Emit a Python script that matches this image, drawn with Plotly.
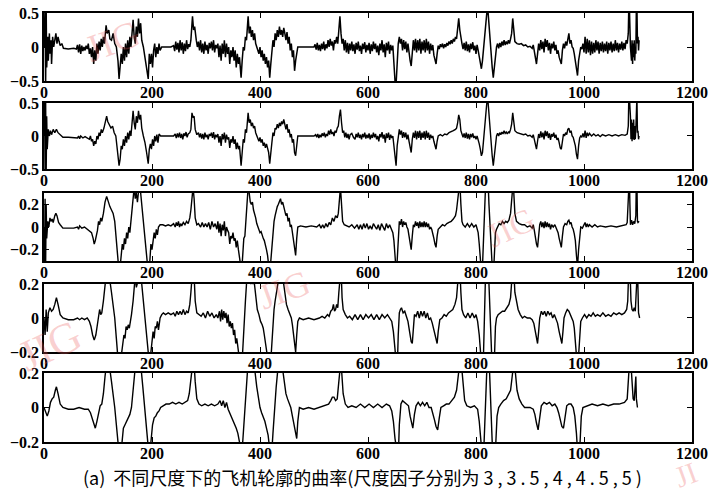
import plotly.graph_objects as go

# ---------------- data ----------------
scale_factors = ["3", "3.5", "4", "4.5", "5"]
x_tick_vals = [0, 200, 400, 600, 800, 1000, 1200]
y_ticks_wide = [-0.5, 0, 0.5]
y_ticks_narrow = [-0.2, 0, 0.2]

# curvature at scale factor 3 (point index, curvature)
curv_s3 = [
    (0, 0.0), (2, 0.6), (3, -0.6), (4, 0.6), (5, -0.3), (7, 0.15), (8, -0.2), (10, 0.2), (11, -0.1), (13, 0.1),
    (14, -0.25), (16, 0.15), (18, 0.0), (20, 0.1), (22, 0.2), (24, 0.05), (26, 0.15), (28, 0.08), (30, 0.02), (33, 0.05),
    (36, -0.02), (45, -0.03), (55, -0.02), (60, -0.03), (62, 0.03), (64, -0.08), (66, 0.04), (68, -0.1), (70, 0.02), (72, -0.06),
    (74, 0.0), (76, -0.05), (78, 0.02), (80, -0.03), (82, 0.05), (84, -0.1), (86, -0.02), (88, -0.15), (90, 0.0), (92, -0.25),
    (94, -0.05), (96, -0.2), (98, 0.05), (100, -0.1), (102, 0.08), (104, -0.05), (106, 0.12), (108, 0.0), (110, 0.15), (112, 0.05),
    (115, 0.32), (117, 0.2), (120, 0.25), (122, 0.12), (125, 0.1), (128, 0.2), (131, 0.05), (134, 0.0), (137, -0.2), (139, -0.47),
    (141, -0.3), (143, -0.1), (145, -0.25), (147, 0.0), (149, -0.2), (151, 0.05), (153, -0.15), (155, 0.1), (157, -0.1), (159, 0.15),
    (161, 0.0), (163, 0.2), (165, 0.4), (167, 0.15), (169, 0.05), (171, 0.3), (173, 0.15), (175, 0.42), (177, 0.2), (179, 0.35),
    (181, 0.1), (184, 0.0), (187, -0.15), (190, -0.25), (193, -0.47), (195, -0.1), (197, -0.25), (199, -0.1), (201, -0.3), (203, -0.05),
    (205, 0.05), (207, -0.15), (209, 0.0), (211, -0.1), (213, 0.05), (215, -0.05), (218, 0.0), (225, 0.0), (235, 0.0), (240, 0.02),
    (242, -0.06), (244, 0.08), (246, -0.04), (248, 0.06), (250, -0.08), (252, 0.1), (254, -0.05), (256, 0.07), (258, -0.1), (260, 0.05),
    (262, -0.06), (264, 0.1), (266, -0.03), (268, 0.04), (270, 0.0), (272, 0.1), (275, 0.45), (277, 0.25), (279, 0.3), (282, 0.1),
    (284, 0.0), (286, 0.08), (288, -0.05), (290, 0.1), (292, -0.08), (294, 0.05), (296, -0.1), (298, 0.08), (300, -0.05), (302, 0.03),
    (304, -0.1), (306, 0.06), (308, -0.02), (310, 0.08), (312, -0.05), (314, 0.1), (316, -0.08), (318, 0.03), (320, -0.02), (322, 0.05),
    (324, -0.15), (326, 0.02), (328, -0.2), (330, 0.05), (332, -0.1), (334, 0.1), (336, -0.15), (338, 0.05), (340, -0.1), (342, 0.0),
    (344, -0.25), (346, -0.05), (348, -0.15), (350, 0.0), (352, -0.2), (354, -0.05), (356, -0.3), (358, -0.1), (360, -0.25), (362, -0.15),
    (365, -0.45), (367, -0.2), (369, 0.0), (371, -0.05), (373, 0.15), (375, 0.1), (377, 0.35), (378, 0.45), (380, 0.2), (382, 0.3),
    (384, 0.15), (386, 0.25), (388, 0.1), (390, 0.2), (392, 0.05), (394, 0.0), (396, -0.05), (398, -0.1), (400, 0.0), (402, -0.15),
    (404, -0.05), (406, -0.2), (408, -0.1), (410, -0.25), (412, -0.15), (414, -0.3), (416, -0.2), (418, -0.45), (420, -0.25), (422, -0.1),
    (424, 0.1), (426, 0.0), (428, 0.2), (430, 0.1), (432, 0.25), (434, 0.15), (436, 0.3), (438, 0.18), (440, 0.25), (442, 0.15),
    (444, 0.28), (446, 0.2), (448, 0.1), (450, 0.22), (452, 0.05), (454, 0.15), (456, -0.05), (458, 0.05), (460, -0.15), (462, -0.05),
    (464, -0.35), (466, -0.2), (468, -0.05), (470, 0.0), (480, 0.0), (490, 0.0), (500, 0.0), (502, 0.04), (504, -0.04), (506, 0.06),
    (508, -0.05), (510, 0.03), (512, -0.06), (514, 0.05), (516, -0.03), (518, 0.08), (520, -0.05), (522, 0.04), (524, -0.02), (526, 0.1),
    (528, 0.0), (530, 0.12), (532, 0.02), (534, 0.08), (536, -0.05), (538, 0.1), (540, 0.05), (542, 0.15), (544, 0.05), (546, 0.25),
    (548, 0.45), (550, 0.2), (552, 0.05), (554, 0.12), (556, -0.05), (558, 0.1), (560, -0.08), (562, 0.06), (564, -0.1), (566, 0.05),
    (568, -0.05), (570, 0.08), (572, -0.06), (574, 0.04), (576, -0.1), (578, 0.06), (580, -0.04), (582, 0.08), (584, -0.06), (586, 0.02),
    (588, -0.1), (590, 0.05), (592, -0.03), (594, 0.07), (596, -0.08), (598, 0.03), (600, -0.05), (602, 0.06), (604, -0.1), (606, 0.04),
    (608, -0.06), (610, 0.08), (612, -0.03), (614, 0.05), (616, -0.08), (618, 0.02), (620, -0.12), (622, 0.05), (624, -0.05), (626, 0.1),
    (628, -0.08), (630, 0.04), (632, -0.15), (634, 0.06), (636, -0.05), (638, 0.08), (640, -0.1), (642, 0.03), (644, -0.05), (646, 0.02),
    (648, -0.2), (650, -0.5), (652, -0.55), (654, -0.1), (656, 0.05), (658, 0.15), (660, 0.05), (662, 0.12), (664, -0.05), (666, 0.1),
    (668, -0.03), (670, 0.08), (672, -0.08), (674, 0.05), (676, -0.1), (678, -0.2), (680, -0.28), (682, 0.0), (684, 0.1), (686, -0.05),
    (688, 0.12), (690, -0.08), (692, 0.1), (694, -0.05), (696, 0.12), (698, -0.1), (700, 0.08), (702, -0.05), (704, 0.1), (706, -0.08),
    (708, 0.12), (710, -0.05), (712, 0.08), (714, -0.1), (716, 0.05), (718, -0.05), (720, 0.03), (722, -0.12), (724, -0.18), (726, -0.25),
    (728, -0.1), (730, 0.02), (732, -0.03), (734, 0.04), (736, 0.0), (738, 0.05), (740, -0.02), (742, 0.04), (744, 0.0), (746, 0.06),
    (748, 0.02), (750, 0.08), (752, 0.04), (754, 0.1), (756, 0.05), (758, 0.12), (760, 0.08), (762, 0.15), (764, 0.12), (766, 0.25),
    (768, 0.42), (770, 0.25), (772, 0.1), (774, 0.05), (776, -0.03), (778, 0.06), (780, -0.05), (782, 0.08), (784, -0.06), (786, 0.04),
    (788, -0.08), (790, 0.05), (792, -0.03), (794, 0.07), (796, -0.05), (798, 0.02), (800, -0.1), (802, 0.03), (804, -0.05), (806, -0.15),
    (808, -0.25), (810, -0.32), (812, -0.2), (814, 0.0), (816, 0.15), (818, 0.3), (820, 0.5), (822, 0.55), (824, 0.3), (826, 0.1),
    (828, -0.1), (830, -0.3), (832, -0.45), (834, -0.3), (836, -0.05), (838, 0.0), (840, 0.05), (842, -0.02), (844, 0.06), (846, 0.0),
    (848, 0.08), (850, 0.02), (852, 0.1), (854, 0.03), (856, 0.08), (858, 0.04), (860, 0.1), (862, 0.05), (864, 0.12), (866, 0.2),
    (868, 0.42), (870, 0.2), (872, 0.08), (876, 0.05), (880, 0.04), (884, 0.05), (888, 0.02), (892, 0.03), (896, 0.0), (900, 0.01),
    (904, -0.02), (906, 0.03), (908, -0.05), (910, -0.15), (912, -0.25), (914, -0.1), (916, 0.05), (918, -0.05), (920, 0.1), (922, -0.03),
    (924, 0.08), (926, -0.08), (928, 0.12), (930, 0.0), (932, 0.1), (934, -0.05), (936, 0.06), (938, -0.1), (940, 0.05), (942, -0.02),
    (944, 0.08), (946, -0.05), (948, 0.03), (950, -0.1), (952, -0.05), (954, -0.15), (956, -0.22), (958, -0.25), (960, -0.05), (962, 0.05),
    (964, -0.02), (966, 0.08), (968, 0.02), (970, 0.15), (972, 0.2), (974, 0.05), (976, 0.1), (978, 0.0), (980, -0.02), (982, -0.1),
    (984, -0.2), (986, -0.35), (988, -0.42), (990, -0.2), (992, -0.05), (994, 0.0), (996, -0.03), (998, 0.05), (1000, -0.08), (1002, 0.15),
    (1004, -0.1), (1006, 0.12), (1008, -0.08), (1010, 0.1), (1012, -0.12), (1014, 0.08), (1016, -0.1), (1018, 0.06), (1020, -0.08), (1022, 0.1),
    (1024, -0.05), (1026, 0.08), (1028, -0.1), (1030, 0.06), (1032, -0.06), (1034, 0.08), (1036, -0.08), (1038, 0.05), (1040, -0.06), (1042, 0.08),
    (1044, -0.1), (1046, 0.06), (1048, -0.05), (1050, 0.08), (1052, -0.08), (1054, 0.05), (1056, -0.06), (1058, 0.1), (1060, -0.05), (1062, 0.06),
    (1064, -0.08), (1066, 0.05), (1068, -0.04), (1070, 0.08), (1072, -0.05), (1074, 0.06), (1076, -0.03), (1078, 0.1), (1080, 0.05), (1082, 0.2),
    (1083, 0.6), (1084, 0.6), (1086, 0.0), (1088, -0.2), (1089, 0.1), (1090, -0.25), (1091, 0.05), (1092, -0.15), (1093, 0.1), (1094, -0.2),
    (1095, 0.0), (1096, -0.1), (1097, 0.6), (1098, 0.6), (1099, 0.05), (1100, 0.15), (1101, -0.05), (1102, 0.1),
]

# curvature at scale factor 3.5
curv_s35 = [
    (0, 0.0), (1, 0.6), (2, -0.6), (3, 0.6), (4, -0.6), (5, 0.3), (6, -0.2), (8, 0.1), (10, 0.0), (12, 0.08),
    (14, 0.02), (17, 0.1), (20, 0.05), (23, 0.1), (26, 0.05), (30, 0.02), (35, -0.02), (45, -0.02), (55, -0.02), (62, -0.03),
    (64, 0.0), (66, -0.04), (68, 0.0), (72, -0.03), (76, -0.01), (80, -0.03), (84, -0.05), (86, 0.0), (88, -0.08), (90, -0.05),
    (92, -0.15), (94, -0.08), (96, -0.12), (98, 0.0), (100, -0.05), (102, 0.05), (104, 0.0), (106, 0.1), (108, 0.05), (111, 0.12),
    (114, 0.25), (116, 0.3), (118, 0.22), (121, 0.18), (124, 0.12), (127, 0.15), (130, 0.05), (133, 0.0), (136, -0.2), (139, -0.45),
    (141, -0.35), (143, -0.15), (145, -0.2), (147, -0.05), (149, -0.15), (151, 0.0), (153, -0.1), (155, 0.05), (157, -0.05), (159, 0.08),
    (161, 0.0), (163, 0.15), (165, 0.38), (167, 0.2), (169, 0.1), (171, 0.3), (173, 0.2), (175, 0.38), (177, 0.25), (179, 0.32),
    (181, 0.12), (184, 0.0), (187, -0.1), (190, -0.25), (193, -0.42), (195, -0.2), (197, -0.12), (199, -0.2), (201, -0.05), (203, -0.15),
    (205, 0.0), (207, -0.08), (209, 0.02), (211, -0.1), (213, 0.03), (216, 0.0), (220, 0.0), (230, 0.0), (240, 0.0), (243, 0.03),
    (245, -0.03), (247, 0.04), (249, -0.02), (251, 0.05), (253, -0.03), (255, 0.03), (257, -0.05), (259, 0.04), (261, 0.0), (263, 0.06),
    (265, -0.02), (267, 0.03), (270, 0.05), (272, 0.1), (274, 0.35), (276, 0.28), (278, 0.3), (280, 0.1), (283, 0.02), (286, 0.05),
    (288, -0.02), (290, 0.04), (292, -0.04), (294, 0.03), (296, -0.05), (298, 0.05), (300, -0.02), (302, 0.02), (304, -0.05), (306, 0.03),
    (308, 0.0), (310, 0.05), (312, -0.03), (314, 0.06), (316, -0.05), (318, 0.02), (320, -0.02), (322, 0.03), (324, -0.1), (326, 0.0),
    (328, -0.15), (330, 0.03), (332, -0.05), (334, 0.05), (336, -0.1), (338, 0.02), (340, -0.05), (342, -0.02), (344, -0.18), (346, -0.05),
    (348, -0.1), (350, 0.0), (352, -0.12), (354, -0.05), (356, -0.2), (358, -0.1), (360, -0.2), (362, -0.15), (364, -0.35), (365, -0.45),
    (367, -0.25), (369, -0.05), (371, -0.1), (373, 0.1), (375, 0.05), (377, 0.3), (378, 0.35), (380, 0.2), (382, 0.25), (384, 0.15),
    (386, 0.2), (388, 0.12), (390, 0.15), (392, 0.05), (394, 0.0), (396, -0.03), (398, -0.08), (400, -0.02), (402, -0.1), (404, -0.05),
    (406, -0.15), (408, -0.1), (410, -0.18), (412, -0.12), (414, -0.2), (416, -0.25), (418, -0.42), (420, -0.3), (422, -0.1), (424, 0.05),
    (426, 0.0), (428, 0.12), (430, 0.1), (432, 0.18), (434, 0.12), (436, 0.2), (438, 0.15), (440, 0.22), (442, 0.18), (444, 0.25),
    (446, 0.18), (448, 0.1), (450, 0.18), (452, 0.05), (454, 0.1), (456, -0.02), (458, 0.03), (460, -0.1), (462, -0.05), (464, -0.25),
    (466, -0.3), (468, -0.1), (470, 0.0), (480, 0.0), (490, 0.0), (500, 0.0), (503, 0.02), (505, -0.02), (507, 0.03), (509, -0.03),
    (511, 0.02), (513, -0.02), (515, 0.04), (517, 0.0), (519, 0.05), (521, -0.02), (523, 0.03), (525, 0.0), (527, 0.08), (529, 0.02),
    (531, 0.1), (533, 0.03), (535, 0.06), (537, 0.0), (539, 0.08), (541, 0.05), (543, 0.12), (545, 0.15), (547, 0.3), (549, 0.4),
    (551, 0.2), (553, 0.05), (555, 0.08), (557, -0.02), (559, 0.05), (561, -0.03), (563, 0.03), (565, -0.05), (567, 0.02), (570, 0.04),
    (573, -0.02), (576, -0.05), (578, 0.03), (580, -0.02), (582, 0.05), (584, -0.03), (586, 0.02), (588, -0.05), (590, 0.03), (592, -0.02),
    (594, 0.05), (596, -0.04), (598, 0.02), (600, -0.03), (602, 0.04), (604, -0.05), (606, 0.02), (608, -0.03), (610, 0.05), (612, -0.02),
    (614, 0.03), (616, -0.05), (618, 0.0), (620, -0.08), (622, 0.03), (624, -0.02), (626, 0.06), (628, -0.04), (630, 0.02), (632, -0.1),
    (634, 0.04), (636, -0.03), (638, 0.05), (640, -0.06), (642, 0.02), (644, -0.03), (646, 0.0), (648, -0.15), (650, -0.35), (652, -0.45),
    (654, -0.15), (656, 0.0), (658, 0.1), (660, 0.02), (662, 0.08), (664, -0.03), (666, 0.06), (668, -0.02), (670, 0.05), (672, -0.05),
    (674, 0.02), (676, -0.08), (678, -0.15), (680, -0.25), (682, -0.05), (684, 0.05), (686, -0.03), (688, 0.08), (690, -0.05), (692, 0.07),
    (694, -0.03), (696, 0.08), (698, -0.06), (700, 0.05), (702, -0.03), (704, 0.07), (706, -0.05), (708, 0.08), (710, -0.03), (712, 0.05),
    (714, -0.06), (716, 0.02), (718, -0.03), (720, 0.0), (722, -0.08), (724, -0.15), (726, -0.2), (728, -0.08), (730, 0.0), (734, 0.02),
    (738, 0.0), (742, 0.03), (746, 0.02), (750, 0.05), (754, 0.06), (758, 0.08), (762, 0.1), (764, 0.12), (766, 0.2), (768, 0.32),
    (770, 0.25), (772, 0.08), (774, 0.03), (776, -0.02), (778, 0.04), (780, -0.03), (782, 0.05), (784, -0.04), (786, 0.03), (788, -0.05),
    (790, 0.03), (792, -0.02), (794, 0.04), (796, -0.03), (798, 0.0), (800, -0.05), (802, 0.0), (804, -0.05), (806, -0.12), (808, -0.2),
    (810, -0.3), (812, -0.25), (814, -0.05), (816, 0.15), (818, 0.3), (820, 0.5), (822, 0.55), (824, 0.3), (826, 0.1), (828, -0.1),
    (830, -0.3), (832, -0.45), (834, -0.3), (836, -0.05), (838, 0.0), (840, 0.04), (842, 0.0), (844, 0.05), (846, 0.02), (848, 0.06),
    (850, 0.03), (852, 0.08), (854, 0.04), (856, 0.06), (858, 0.03), (860, 0.06), (862, 0.05), (864, 0.1), (866, 0.18), (868, 0.35),
    (870, 0.2), (872, 0.08), (876, 0.05), (880, 0.04), (884, 0.04), (888, 0.02), (892, 0.03), (896, 0.0), (900, 0.01), (904, -0.02),
    (906, 0.02), (908, -0.05), (910, -0.12), (912, -0.2), (914, -0.08), (916, 0.03), (918, -0.03), (920, 0.07), (922, -0.02), (924, 0.05),
    (926, -0.05), (928, 0.08), (930, 0.0), (932, 0.07), (934, -0.03), (936, 0.04), (938, -0.06), (940, 0.03), (942, -0.01), (944, 0.05),
    (946, -0.03), (948, 0.02), (950, -0.06), (952, -0.03), (954, -0.1), (956, -0.18), (958, -0.2), (960, -0.05), (962, 0.03), (964, 0.0),
    (966, 0.05), (968, 0.02), (970, 0.1), (972, 0.12), (974, 0.05), (976, 0.08), (978, 0.0), (980, -0.02), (982, -0.08), (984, -0.15),
    (986, -0.28), (988, -0.35), (990, -0.15), (992, -0.03), (994, 0.0), (996, -0.02), (998, 0.04), (1000, -0.02), (1002, 0.08), (1004, -0.03),
    (1006, 0.05), (1008, 0.0), (1010, 0.04), (1014, 0.0), (1018, 0.03), (1022, 0.0), (1026, 0.02), (1030, -0.01), (1034, 0.02), (1040, 0.0),
    (1046, 0.02), (1052, 0.0), (1058, 0.02), (1064, 0.0), (1070, 0.02), (1076, 0.01), (1080, 0.03), (1082, 0.15), (1083, 0.6), (1084, 0.6),
    (1086, 0.3), (1087, -0.05), (1088, 0.25), (1089, -0.08), (1090, 0.2), (1091, -0.05), (1092, 0.25), (1093, -0.06), (1094, 0.15), (1095, -0.05),
    (1096, 0.1), (1097, 0.6), (1098, 0.6), (1099, 0.05), (1100, 0.08), (1101, -0.05), (1102, 0.0),
]

# curvature at scale factor 4
curv_s4 = [
    (0, 0.0), (1, -0.4), (2, 0.25), (3, -0.35), (4, 0.2), (5, -0.1), (7, 0.05), (9, 0.0), (11, 0.08), (13, 0.05),
    (15, 0.07), (17, 0.04), (20, 0.1), (22, 0.12), (24, 0.1), (27, 0.04), (30, 0.02), (35, -0.01), (45, -0.01), (55, -0.01),
    (62, 0.0), (64, -0.02), (66, 0.01), (70, -0.01), (75, 0.0), (80, -0.02), (84, -0.03), (88, -0.05), (91, -0.1), (93, -0.15),
    (95, -0.12), (97, -0.08), (99, -0.03), (101, 0.05), (103, 0.02), (105, 0.08), (107, 0.05), (110, 0.12), (113, 0.22), (116, 0.27),
    (119, 0.22), (122, 0.18), (125, 0.15), (128, 0.12), (131, 0.05), (134, -0.1), (137, -0.3), (139, -0.4), (141, -0.35), (143, -0.25),
    (145, -0.15), (147, -0.2), (149, -0.1), (151, -0.15), (153, -0.05), (155, -0.1), (157, 0.0), (159, -0.05), (161, 0.05), (163, 0.1),
    (165, 0.25), (167, 0.35), (169, 0.25), (171, 0.3), (173, 0.22), (175, 0.35), (177, 0.4), (179, 0.3), (181, 0.2), (184, 0.1),
    (187, -0.05), (190, -0.2), (193, -0.4), (196, -0.3), (198, -0.15), (200, -0.2), (202, -0.1), (204, -0.05), (206, -0.1), (208, -0.02),
    (210, -0.07), (212, 0.0), (215, 0.02), (220, 0.02), (225, 0.01), (230, 0.02), (235, 0.01), (240, 0.03), (243, 0.0), (245, 0.04),
    (247, 0.01), (249, 0.05), (251, 0.0), (253, 0.03), (255, 0.01), (258, 0.04), (261, 0.02), (264, 0.05), (267, 0.03), (270, 0.08),
    (272, 0.15), (274, 0.35), (276, 0.35), (278, 0.25), (280, 0.08), (283, 0.02), (286, 0.03), (290, 0.0), (293, 0.04), (296, 0.0),
    (299, 0.03), (302, 0.0), (305, 0.04), (308, -0.02), (311, 0.05), (314, 0.0), (317, 0.03), (320, -0.02), (322, 0.05), (324, -0.05),
    (326, 0.03), (328, -0.08), (330, 0.02), (332, -0.03), (334, 0.05), (336, -0.08), (338, 0.0), (340, -0.03), (342, -0.05), (344, -0.15),
    (346, -0.08), (348, -0.1), (350, -0.05), (352, -0.12), (354, -0.1), (356, -0.18), (358, -0.12), (360, -0.2), (362, -0.25), (364, -0.35),
    (366, -0.4), (368, -0.25), (370, -0.1), (372, -0.08), (374, 0.05), (376, 0.2), (378, 0.35), (380, 0.3), (382, 0.22), (384, 0.2),
    (386, 0.22), (388, 0.15), (390, 0.12), (392, 0.08), (394, 0.03), (396, 0.0), (398, -0.03), (400, -0.05), (402, -0.04), (404, -0.08),
    (406, -0.1), (408, -0.12), (410, -0.18), (412, -0.2), (414, -0.25), (416, -0.35), (418, -0.42), (420, -0.3), (422, -0.15), (424, 0.0),
    (426, 0.05), (428, 0.1), (430, 0.15), (432, 0.18), (434, 0.2), (436, 0.22), (438, 0.25), (440, 0.2), (442, 0.22), (444, 0.18),
    (446, 0.15), (448, 0.1), (450, 0.12), (452, 0.05), (454, 0.08), (456, 0.0), (458, 0.02), (460, -0.05), (462, -0.08), (464, -0.18),
    (466, -0.25), (468, -0.1), (470, 0.0), (475, 0.01), (485, 0.0), (495, 0.01), (505, 0.0), (510, 0.02), (513, -0.01), (516, 0.02),
    (519, -0.01), (522, 0.03), (525, 0.0), (528, 0.04), (531, 0.02), (534, 0.08), (537, 0.05), (540, 0.1), (543, 0.08), (545, 0.12),
    (547, 0.25), (549, 0.35), (551, 0.2), (553, 0.05), (556, 0.02), (560, 0.01), (565, 0.0), (570, 0.02), (575, -0.01), (580, 0.02),
    (583, -0.02), (586, 0.02), (589, -0.02), (592, 0.03), (595, -0.01), (598, 0.03), (601, -0.02), (604, 0.01), (607, -0.02), (610, 0.03),
    (613, 0.0), (616, -0.02), (619, 0.02), (622, -0.03), (625, 0.03), (628, 0.0), (631, -0.03), (634, 0.03), (637, -0.01), (640, 0.02),
    (643, -0.02), (646, -0.05), (648, -0.12), (650, -0.25), (652, -0.38), (654, -0.3), (656, -0.05), (658, 0.05), (660, 0.02), (662, 0.07),
    (664, 0.0), (666, 0.05), (668, 0.02), (670, 0.04), (672, 0.0), (674, -0.02), (676, -0.08), (678, -0.15), (680, -0.2), (682, -0.08),
    (684, 0.02), (686, 0.0), (688, 0.05), (690, 0.01), (692, 0.04), (694, -0.01), (696, 0.05), (698, 0.0), (700, 0.04), (702, 0.0),
    (704, 0.05), (706, 0.0), (708, 0.04), (710, 0.0), (712, 0.03), (714, -0.02), (716, 0.0), (718, -0.02), (720, -0.05), (722, -0.1),
    (724, -0.15), (726, -0.18), (728, -0.08), (730, -0.02), (734, 0.0), (738, 0.02), (742, 0.01), (746, 0.03), (750, 0.04), (754, 0.05),
    (758, 0.07), (762, 0.1), (764, 0.15), (766, 0.25), (768, 0.35), (770, 0.4), (772, 0.2), (774, 0.05), (776, 0.02), (780, 0.0),
    (784, 0.03), (788, 0.0), (792, 0.03), (796, 0.0), (800, 0.02), (802, -0.02), (804, -0.05), (806, -0.15), (808, -0.3), (810, -0.4),
    (812, -0.35), (814, -0.1), (816, 0.2), (818, 0.4), (820, 0.5), (822, 0.45), (824, 0.2), (826, 0.0), (828, -0.2), (830, -0.35),
    (832, -0.45), (834, -0.3), (836, -0.05), (838, -0.02), (840, 0.0), (843, 0.03), (846, 0.02), (849, 0.05), (852, 0.03), (855, 0.05),
    (858, 0.04), (861, 0.06), (864, 0.12), (866, 0.22), (868, 0.35), (870, 0.3), (872, 0.12), (875, 0.05), (880, 0.03), (885, 0.02),
    (890, 0.02), (895, 0.0), (900, 0.01), (904, -0.01), (906, 0.02), (908, -0.03), (910, -0.1), (912, -0.15), (914, -0.18), (916, -0.05),
    (918, 0.02), (920, 0.05), (922, 0.0), (924, 0.04), (926, -0.01), (928, 0.05), (930, 0.0), (932, 0.04), (934, 0.0), (936, 0.03),
    (938, -0.02), (940, 0.02), (943, 0.0), (946, 0.02), (949, -0.02), (952, -0.05), (954, -0.1), (956, -0.15), (958, -0.18), (960, -0.08),
    (962, 0.0), (965, 0.03), (968, 0.02), (970, 0.05), (972, 0.06), (974, 0.03), (976, 0.04), (978, 0.0), (980, -0.02), (982, -0.06),
    (984, -0.12), (986, -0.25), (988, -0.35), (990, -0.2), (992, -0.05), (994, 0.0), (997, -0.01), (1000, 0.02), (1002, 0.04), (1004, 0.0),
    (1006, 0.03), (1008, 0.0), (1010, 0.02), (1015, 0.0), (1020, 0.02), (1025, 0.0), (1030, 0.01), (1040, 0.0), (1050, 0.01), (1060, 0.0),
    (1070, 0.01), (1078, 0.02), (1080, 0.04), (1082, 0.15), (1083, 0.4), (1084, 0.45), (1085, 0.2), (1086, 0.02), (1088, 0.06), (1090, 0.02),
    (1092, 0.05), (1094, 0.03), (1096, 0.1), (1097, 0.45), (1098, 0.4), (1099, 0.05), (1100, 0.04), (1102, 0.05),
]

# curvature at scale factor 4.5
curv_s45 = [
    (0, 0.0), (2, -0.1), (4, 0.05), (6, -0.08), (8, 0.03), (11, 0.06), (14, 0.04), (17, 0.05), (20, 0.08), (23, 0.12),
    (26, 0.08), (30, 0.02), (35, 0.0), (45, -0.01), (55, -0.01), (62, 0.0), (66, -0.01), (70, 0.0), (75, -0.01), (80, 0.0),
    (84, -0.02), (87, -0.05), (90, -0.1), (93, -0.13), (96, -0.1), (98, -0.05), (100, 0.0), (103, 0.05), (105, 0.02), (107, 0.03),
    (110, 0.1), (113, 0.2), (116, 0.28), (119, 0.25), (122, 0.22), (125, 0.15), (128, 0.08), (131, 0.0), (134, -0.12), (137, -0.25),
    (139, -0.32), (142, -0.3), (144, -0.2), (146, -0.15), (148, -0.1), (150, -0.12), (152, -0.05), (154, -0.07), (156, -0.04), (158, -0.06),
    (160, 0.0), (162, 0.02), (165, 0.1), (167, 0.22), (169, 0.25), (171, 0.18), (173, 0.2), (175, 0.22), (177, 0.25), (179, 0.28),
    (181, 0.2), (184, 0.1), (187, 0.0), (190, -0.1), (193, -0.22), (196, -0.3), (198, -0.2), (200, -0.12), (202, -0.08), (204, -0.12),
    (206, -0.05), (208, -0.06), (210, -0.02), (212, -0.07), (215, 0.0), (218, 0.02), (221, 0.03), (225, 0.02), (230, 0.03), (235, 0.02),
    (240, 0.03), (243, 0.01), (246, 0.04), (249, 0.02), (252, 0.04), (255, 0.02), (258, 0.05), (261, 0.02), (264, 0.04), (267, 0.03),
    (270, 0.08), (272, 0.15), (274, 0.3), (276, 0.32), (278, 0.25), (280, 0.1), (283, 0.03), (287, 0.02), (291, 0.01), (295, 0.03),
    (299, 0.0), (303, 0.04), (307, 0.01), (311, 0.03), (315, 0.0), (319, 0.02), (322, 0.0), (325, 0.04), (327, -0.02), (329, 0.05),
    (331, -0.01), (333, 0.04), (335, 0.0), (337, 0.03), (339, -0.03), (341, 0.02), (343, -0.05), (345, -0.02), (347, -0.06), (349, -0.03),
    (351, -0.1), (353, -0.07), (355, -0.15), (357, -0.12), (359, -0.18), (361, -0.22), (363, -0.3), (365, -0.32), (367, -0.25), (369, -0.1),
    (371, 0.0), (373, 0.1), (375, 0.2), (377, 0.28), (379, 0.25), (381, 0.22), (383, 0.2), (385, 0.23), (387, 0.2), (389, 0.22),
    (391, 0.15), (393, 0.1), (395, 0.05), (398, 0.02), (401, -0.02), (404, -0.04), (406, -0.06), (408, -0.1), (410, -0.14), (412, -0.17),
    (414, -0.22), (416, -0.28), (418, -0.32), (420, -0.25), (422, -0.12), (424, 0.0), (426, 0.05), (428, 0.1), (430, 0.15), (432, 0.2),
    (434, 0.25), (437, 0.28), (440, 0.25), (443, 0.22), (446, 0.15), (449, 0.08), (452, 0.05), (455, 0.03), (458, 0.0), (460, -0.04),
    (462, -0.1), (464, -0.16), (466, -0.2), (468, -0.1), (470, -0.02), (473, 0.0), (480, -0.01), (490, 0.0), (500, -0.01), (510, 0.0),
    (515, 0.01), (520, 0.0), (525, 0.02), (528, 0.01), (531, 0.04), (534, 0.05), (536, 0.08), (538, 0.04), (540, 0.05), (542, 0.08),
    (544, 0.06), (546, 0.15), (548, 0.28), (550, 0.3), (552, 0.12), (554, 0.05), (558, 0.02), (562, 0.0), (566, 0.01), (571, -0.01),
    (576, 0.02), (581, -0.01), (586, 0.02), (591, -0.01), (596, 0.02), (601, 0.0), (606, 0.02), (611, -0.01), (616, 0.02), (621, -0.01),
    (626, 0.02), (631, 0.0), (636, 0.02), (640, 0.0), (644, -0.02), (647, -0.08), (650, -0.2), (652, -0.3), (654, -0.32), (656, -0.1),
    (658, 0.03), (660, 0.05), (662, 0.06), (665, 0.03), (668, 0.04), (671, 0.01), (674, -0.02), (677, -0.08), (680, -0.14), (682, -0.15),
    (684, -0.05), (686, 0.02), (689, 0.01), (692, 0.04), (695, 0.0), (698, 0.04), (701, 0.01), (704, 0.04), (707, 0.0), (710, 0.03),
    (713, -0.01), (716, 0.0), (719, -0.03), (722, -0.07), (725, -0.12), (728, -0.15), (730, -0.08), (733, -0.01), (737, 0.0), (741, 0.02),
    (745, 0.01), (749, 0.03), (753, 0.04), (757, 0.05), (761, 0.08), (764, 0.12), (766, 0.2), (768, 0.3), (770, 0.3), (772, 0.15),
    (774, 0.05), (777, 0.02), (781, 0.0), (785, 0.03), (789, 0.0), (793, 0.03), (797, 0.0), (800, 0.02), (803, -0.02), (806, -0.1),
    (808, -0.2), (810, -0.3), (812, -0.35), (814, -0.2), (816, 0.1), (818, 0.3), (820, 0.4), (822, 0.35), (824, 0.2), (826, 0.0),
    (828, -0.2), (830, -0.3), (832, -0.35), (834, -0.25), (836, -0.05), (838, 0.0), (841, 0.02), (845, 0.03), (849, 0.04), (853, 0.04),
    (857, 0.06), (861, 0.08), (864, 0.12), (866, 0.2), (868, 0.3), (870, 0.28), (872, 0.15), (875, 0.1), (878, 0.05), (882, 0.02),
    (886, 0.0), (890, 0.01), (895, 0.0), (900, 0.0), (904, -0.01), (907, -0.03), (910, -0.08), (912, -0.12), (914, -0.15), (916, -0.08),
    (918, 0.0), (921, 0.04), (924, 0.02), (927, 0.04), (930, 0.01), (933, 0.04), (936, 0.02), (939, 0.03), (942, 0.0), (945, 0.02),
    (948, -0.01), (951, -0.03), (954, -0.08), (957, -0.13), (959, -0.15), (961, -0.08), (963, 0.0), (966, 0.03), (969, 0.05), (972, 0.04),
    (975, 0.02), (978, 0.0), (980, -0.02), (982, -0.06), (984, -0.12), (986, -0.2), (988, -0.3), (990, -0.22), (992, -0.08), (994, -0.02),
    (997, 0.0), (1001, 0.02), (1005, 0.0), (1009, 0.02), (1013, 0.01), (1017, 0.03), (1021, 0.01), (1025, 0.02), (1030, 0.01), (1035, 0.03),
    (1040, 0.01), (1045, 0.02), (1050, 0.01), (1055, 0.03), (1060, 0.02), (1065, 0.03), (1070, 0.02), (1075, 0.03), (1079, 0.05), (1081, 0.1),
    (1083, 0.3), (1085, 0.3), (1087, 0.1), (1089, 0.05), (1091, 0.04), (1093, 0.06), (1095, 0.04), (1097, 0.3), (1099, 0.3), (1101, 0.03),
    (1103, 0.0),
]

# curvature at scale factor 5
curv_s5 = [
    (0, 0.0), (3, -0.02), (6, -0.05), (9, -0.02), (12, 0.03), (15, 0.05), (18, 0.06), (21, 0.1), (23, 0.12), (26, 0.08),
    (30, 0.02), (35, 0.0), (45, -0.01), (55, -0.01), (65, 0.0), (75, -0.01), (82, -0.01), (86, -0.03), (89, -0.06), (92, -0.1),
    (95, -0.12), (98, -0.08), (101, -0.03), (104, 0.01), (107, 0.02), (110, 0.08), (113, 0.18), (116, 0.26), (119, 0.25), (122, 0.22),
    (125, 0.15), (128, 0.08), (131, 0.0), (134, -0.1), (137, -0.22), (140, -0.3), (143, -0.25), (145, -0.18), (147, -0.12), (150, -0.1),
    (153, -0.08), (156, -0.07), (159, -0.04), (162, 0.0), (165, 0.1), (168, 0.2), (171, 0.25), (174, 0.23), (177, 0.26), (180, 0.22),
    (183, 0.12), (186, 0.02), (189, -0.08), (192, -0.2), (195, -0.3), (198, -0.2), (201, -0.1), (204, -0.06), (207, -0.05), (210, -0.03),
    (213, -0.02), (216, 0.0), (220, 0.01), (226, 0.02), (232, 0.02), (238, 0.03), (244, 0.02), (250, 0.03), (256, 0.02), (262, 0.03),
    (266, 0.04), (269, 0.08), (272, 0.15), (275, 0.28), (277, 0.3), (280, 0.15), (283, 0.05), (287, 0.02), (292, 0.01), (298, 0.02),
    (304, 0.01), (310, 0.02), (316, 0.01), (322, 0.02), (326, 0.04), (329, 0.01), (332, 0.04), (335, 0.0), (338, 0.03), (341, -0.01),
    (344, -0.03), (347, -0.05), (350, -0.07), (353, -0.1), (356, -0.12), (359, -0.15), (362, -0.2), (365, -0.25), (368, -0.2), (371, -0.05),
    (374, 0.1), (377, 0.22), (380, 0.25), (384, 0.23), (388, 0.24), (391, 0.2), (394, 0.12), (397, 0.05), (400, 0.0), (403, -0.03),
    (406, -0.05), (409, -0.08), (412, -0.12), (415, -0.16), (418, -0.24), (421, -0.3), (424, -0.15), (427, 0.0), (430, 0.12), (433, 0.22),
    (436, 0.25), (439, 0.26), (442, 0.22), (445, 0.15), (448, 0.08), (451, 0.05), (454, 0.03), (457, 0.0), (460, -0.05), (463, -0.1),
    (466, -0.16), (468, -0.18), (470, -0.08), (473, 0.0), (480, -0.01), (490, 0.0), (500, -0.01), (510, 0.0), (520, 0.01), (527, 0.02),
    (531, 0.04), (534, 0.06), (537, 0.06), (540, 0.04), (543, 0.05), (546, 0.12), (549, 0.25), (551, 0.22), (554, 0.08), (558, 0.02),
    (563, 0.0), (570, 0.01), (578, 0.0), (586, 0.02), (594, 0.0), (602, 0.02), (610, 0.0), (618, 0.02), (626, 0.0), (634, 0.02),
    (640, 0.01), (644, -0.02), (647, -0.08), (650, -0.18), (653, -0.3), (656, -0.3), (658, -0.1), (661, 0.02), (664, 0.04), (668, 0.03),
    (672, 0.02), (675, 0.01), (678, -0.05), (681, -0.1), (683, -0.12), (686, -0.04), (689, 0.01), (693, 0.03), (697, 0.01), (701, 0.03),
    (705, 0.01), (709, 0.03), (713, 0.0), (717, 0.0), (720, -0.03), (723, -0.07), (726, -0.11), (729, -0.13), (732, -0.06), (735, 0.0),
    (740, 0.01), (745, 0.02), (750, 0.02), (755, 0.04), (760, 0.06), (764, 0.1), (767, 0.18), (770, 0.26), (773, 0.25), (776, 0.12),
    (779, 0.04), (783, 0.01), (790, 0.0), (797, 0.01), (803, -0.01), (806, -0.08), (809, -0.2), (812, -0.3), (815, -0.2), (818, 0.1),
    (821, 0.3), (824, 0.3), (827, 0.05), (830, -0.2), (833, -0.3), (836, -0.25), (839, -0.05), (842, 0.0), (846, 0.02), (851, 0.04),
    (856, 0.05), (861, 0.08), (864, 0.1), (867, 0.18), (870, 0.26), (873, 0.2), (876, 0.1), (880, 0.05), (885, 0.02), (890, 0.0),
    (900, 0.0), (906, -0.01), (909, -0.04), (912, -0.09), (915, -0.13), (918, -0.06), (921, 0.01), (926, 0.03), (931, 0.02), (936, 0.03),
    (941, 0.01), (946, 0.02), (950, 0.0), (953, -0.03), (956, -0.07), (959, -0.11), (962, -0.12), (965, -0.04), (968, 0.01), (972, 0.02),
    (976, 0.02), (980, 0.0), (983, -0.05), (986, -0.15), (989, -0.3), (992, -0.25), (995, -0.05), (998, 0.0), (1005, 0.01), (1015, 0.02),
    (1025, 0.01), (1035, 0.02), (1045, 0.01), (1055, 0.02), (1065, 0.02), (1075, 0.03), (1080, 0.05), (1083, 0.15), (1085, 0.3), (1087, 0.25),
    (1089, 0.1), (1091, 0.05), (1093, 0.04), (1095, 0.15), (1096, 0.18), (1097, 0.05), (1099, 0.0),
]

caption = "(a)  不同尺度下的飞机轮廓的曲率(尺度因子分别为 3 , 3 . 5 , 4 , 4 . 5 , 5 )"

# ---------------- figure ----------------
series = [curv_s3, curv_s35, curv_s4, curv_s45, curv_s5]
y_ranges = [[-0.5, 0.5], [-0.5, 0.5], [-0.3, 0.3], [-0.2, 0.2], [-0.2, 0.2]]
y_tickvals = [y_ticks_wide, y_ticks_wide, y_ticks_narrow, y_ticks_narrow, y_ticks_narrow]
domains = [[0.8415, 1.0], [0.6364, 0.7902], [0.4219, 0.5804], [0.2098, 0.3683], [0.0, 0.1608]]
line_widths = [1.5, 1.4, 1.4, 1.4, 1.4]

TICKFONT = dict(family="Liberation Serif", size=16, color="black", weight="bold")


def fmt(v):
    if v == 0:
        return "0"
    s = ("%g" % abs(v))
    return ("\u2212" + s) if v < 0 else s


fig = go.Figure()
layout = dict(
    width=709, height=493,
    margin=dict(l=44, r=17, t=13, b=51, autoexpand=False),
    paper_bgcolor="white", plot_bgcolor="white",
    showlegend=False,
)

for i, pts in enumerate(series):
    n = i + 1
    xs = [p[0] for p in pts]
    ys = [p[1] for p in pts]
    fig.add_trace(go.Scatter(
        x=xs, y=ys, mode="lines",
        line=dict(color="black", width=line_widths[i]),
        name="scale " + scale_factors[i],
        xaxis="x" if n == 1 else "x%d" % n,
        yaxis="y" if n == 1 else "y%d" % n,
    ))
    xkey = "xaxis" if n == 1 else "xaxis%d" % n
    ykey = "yaxis" if n == 1 else "yaxis%d" % n
    layout[xkey] = dict(
        domain=[0, 1], anchor="y" if n == 1 else "y%d" % n,
        range=[0, 1200], tickvals=x_tick_vals,
        ticktext=[str(v) for v in x_tick_vals],
        ticks="inside", ticklen=5, tickwidth=1, tickcolor="black",
        showline=True, linecolor="black", linewidth=1.5, mirror="ticks",
        showgrid=False, zeroline=False, tickfont=TICKFONT, automargin=False,
        ticklabelstandoff=-4,
    )
    layout[ykey] = dict(
        domain=domains[i], anchor="x" if n == 1 else "x%d" % n,
        range=y_ranges[i], tickvals=y_tickvals[i],
        ticktext=[fmt(v) for v in y_tickvals[i]],
        ticks="inside", ticklen=5, tickwidth=1, tickcolor="black",
        showline=True, linecolor="black", linewidth=1.5, mirror="ticks",
        showgrid=False, zeroline=False, tickfont=TICKFONT, automargin=False,
    )

annotations = [
    dict(text=caption, xref="paper", yref="paper", x=0.4915, y=-0.0816,
         xanchor="center", yanchor="middle", showarrow=False,
         font=dict(family="Noto Sans CJK SC", size=18, color="black")),
]
# faint red watermarks of the scanned page
wm = [
    ("JIG", 0.105, 0.935, 38, -20),
    ("JIG", 0.72, 0.50, 34, -25),
    ("JIG", 0.01, 0.225, 44, -25),
    ("JIG", 0.37, 0.355, 36, -20),
    ("JI", 0.99, -0.075, 30, -20),
]
for wt, wx, wy, ws, wa in wm:
    annotations.append(dict(
        text=wt, xref="paper", yref="paper", x=wx, y=wy,
        xanchor="center", yanchor="middle", showarrow=False, textangle=wa,
        font=dict(family="Liberation Serif", size=ws, color="rgba(235,90,90,0.28)"),
    ))
layout["annotations"] = annotations

fig.update_layout(**layout)
# remove the browser's default 8px body margin so the figure sits at the page origin
fig.write_html("out.html", config={"displayModeBar": False},
               post_script="document.body.style.margin='0px';")
